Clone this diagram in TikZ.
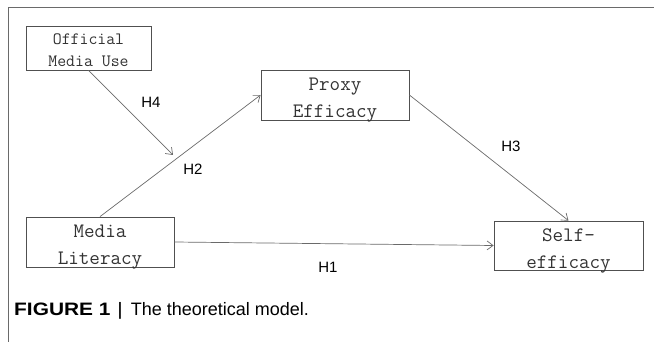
\documentclass[tikz,border=0pt]{standalone}
\usepackage{fontspec}
\setmainfont{Liberation Sans}
\newfontfamily\capfont[FakeStretch=1.16]{Liberation Sans}
\usetikzlibrary{arrows.meta}
\definecolor{linegray}{HTML}{6A6A6A}
\definecolor{boxgray}{HTML}{505050}
\tikzset{
  varbox/.style={draw=boxgray, line width=0.8pt, rectangle, align=center,
                 text=black!80, inner sep=0pt, text depth=0pt,
                 font=\ttfamily\fontsize{20.5}{27}\selectfont, text height=46pt},
  smallbox/.style={varbox, font=\ttfamily\fontsize{17.3}{22}\selectfont, text height=38pt},
  path/.style={draw=linegray, line width=0.7pt,
               -{Straight Barb[length=6pt,width=9pt,line width=0.7pt]}},
  hyp/.style={font=\fontsize{15}{18}\selectfont, text=black}
}
\begin{document}
\begin{tikzpicture}[x=1pt, y=-1pt]
  \useasboundingbox (0,0) rectangle (654,342);
  % page frame
  \draw[linegray, line width=0.8pt] (654,7) -- (8,7) -- (8,342);
  % variables
  \node[smallbox, minimum width=125pt, minimum height=44pt] (omu) at (88.5,48) {Official\\Media Use};
  \node[varbox, minimum width=148pt, minimum height=50pt] (pe) at (335,95) {Proxy\\Efficacy};
  \node[varbox, minimum width=148pt, minimum height=50pt] (ml) at (100,242) {Media\\Literacy};
  \node[varbox, minimum width=149pt, minimum height=49pt] (se) at (568.5,245.5) {Self-\\efficacy};
  \coordinate (h4end) at (173,155);
  % paths
  \draw[path] (ml.north) -- (pe.west);
  \draw[path] (pe.east) -- (se.north);
  \draw[path] (ml.east) -- (se.west);
  \draw[path] (omu.south) -- (h4end);
  % hypotheses
  \node[hyp] (h4) at (151,102) {H4};
  \node[hyp] (h2) at (193,169) {H2};
  \node[hyp] (h3) at (511,146) {H3};
  \node[hyp] (h1) at (328,267) {H1};
  % caption
  \node[anchor=base west, inner sep=0pt, font=\fontsize{18}{22}\selectfont] (cap) at (14,315)
    {{\capfont\bfseries FIGURE 1}\hspace{7pt}{\capfont|}\hspace{8pt}The theoretical model.};
\end{tikzpicture}
\end{document}
